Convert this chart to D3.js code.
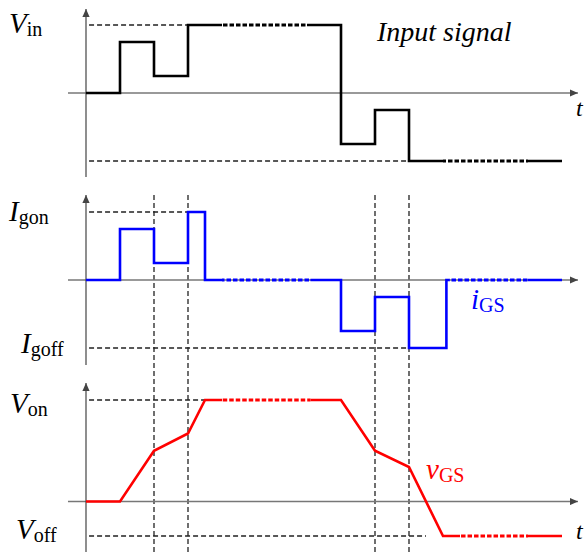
<!DOCTYPE html>
<html>
<head>
<meta charset="utf-8">
<script src="https://cdn.jsdelivr.net/npm/d3@7"></script>
<style>
  body { margin: 0; background: #fff; }
  text { font-family: "Liberation Serif", "DejaVu Serif", serif; }
</style>
</head>
<body>
<div id="chart"></div>
<script>
// time breakpoints (arbitrary units) and signal levels
var vinT   = [0, 1, 1, 2, 2, 3, 3, 7.5, 7.5, 8.5, 8.5, 9.5, 9.5, 14];
var vinV   = [0, 0, 0.75, 0.75, 0.25, 0.25, 1, 1, -0.75, -0.75, -0.25, -0.25, -1, -1];
var igsT   = [0, 1, 1, 2, 2, 3, 3, 3.5, 3.5, 7.5, 7.5, 8.5, 8.5, 9.5, 9.5, 10.6, 10.6, 14];
var igsV   = [0, 0, 0.75, 0.75, 0.25, 0.25, 1, 1, 0, 0, -0.75, -0.75, -0.25, -0.25, -1, -1, 0, 0];
var vgsT   = [0, 1, 2, 3, 3.5, 7.5, 8.5, 9.5, 10.5, 14];
var vgsV   = [0, 0, 0.5, 0.67, 1, 1, 0.5, 0.34, -0.34, -0.34];
// dotted ("time skipped") stretches of each trace
var vinGaps = [[4.0, 6.5], [10.5, 13.0]];
var igsGaps = [[4.0, 6.6], [10.7, 13.0]];
var vgsGaps = [[4.0, 6.6], [11.0, 13.0]];
// reference levels: [value, t end]
var vinRefs = [[1, 3.95], [-1, 9.9]];
var igsRefs = [[1, 3.0], [-1, 10.05]];
var vgsRefs = [[1, 3.5], [-0.34, 10.0]];
var markerT = [2, 3, 8.5, 9.5];

var width = 585, height = 554;
var svg = d3.select("#chart").append("svg")
    .attr("width", width).attr("height", height);

var defs = svg.append("defs");
defs.append("marker").attr("id", "arrow")
    .attr("viewBox", "0 0 10 10").attr("refX", 10).attr("refY", 5)
    .attr("markerWidth", 8).attr("markerHeight", 8)
    .attr("markerUnits", "userSpaceOnUse")
    .attr("orient", "auto")
  .append("path").attr("d", "M0,0.5L10,5L0,9.5Z").attr("fill", "#444");

var x = d3.scaleLinear().domain([0, 14]).range([86, 562]);

var panels = [
  {t: vinT, v: vinV, gaps: vinGaps, refs: vinRefs, color: "#000",
   y: d3.scaleLinear().domain([-1, 1]).range([161, 25]), top: 9, bottom: 177, clip: "c0"},
  {t: igsT, v: igsV, gaps: igsGaps, refs: igsRefs, color: "#0000ff",
   y: d3.scaleLinear().domain([-1, 1]).range([348, 212]), top: 195, bottom: 365, clip: "c1"},
  {t: vgsT, v: vgsV, gaps: vgsGaps, refs: vgsRefs, color: "#ff0000",
   y: d3.scaleLinear().domain([-0.34, 1]).range([536, 400]), top: 383, bottom: 552, clip: "c2"}
];

// vertical dashed marker lines
svg.selectAll(".marker")
    .data(markerT).enter().append("line")
    .attr("x1", d => x(d)).attr("x2", d => x(d))
    .attr("y1", 195).attr("y2", height)
    .attr("stroke", "#222").attr("stroke-width", 1.3)
    .attr("stroke-dasharray", "5,3");

panels.forEach(function (p, k) {
  var g = svg.append("g");
  var y0 = p.y(0);

  // horizontal time axis
  g.append("line")
      .attr("x1", x(-0.53)).attr("x2", x(14.47))
      .attr("y1", y0).attr("y2", y0)
      .attr("stroke", "#777").attr("stroke-width", 1.3)
      .attr("marker-end", "url(#arrow)");
  // vertical axis
  g.append("line")
      .attr("x1", x(0)).attr("x2", x(0))
      .attr("y1", p.bottom).attr("y2", p.top)
      .attr("stroke", "#444").attr("stroke-width", 1.2)
      .attr("marker-end", "url(#arrow)");

  // reference levels
  g.selectAll(".ref").data(p.refs).enter().append("line")
      .attr("x1", x(0.09)).attr("x2", d => x(d[1]))
      .attr("y1", d => p.y(d[0])).attr("y2", d => p.y(d[0]))
      .attr("stroke", "#222").attr("stroke-width", 1.4)
      .attr("stroke-dasharray", "5,3");

  var pts = p.t.map((t, i) => [x(t), p.y(p.v[i])]);
  var line = d3.line();

  // clip solid parts outside the gaps
  var cp = defs.append("clipPath").attr("id", p.clip);
  var edges = [-1].concat(...p.gaps).concat([15]);
  for (var i = 0; i < edges.length; i += 2) {
    cp.append("rect").attr("x", x(edges[i])).attr("width", x(edges[i + 1]) - x(edges[i]))
        .attr("y", 0).attr("height", height);
  }
  g.append("path").attr("d", line(pts))
      .attr("fill", "none").attr("stroke", p.color).attr("stroke-width", 2.6)
      .attr("clip-path", "url(#" + p.clip + ")");

  // dotted parts
  p.gaps.forEach(function (gp, j) {
    var id = p.clip + "g" + j;
    defs.append("clipPath").attr("id", id).append("rect")
        .attr("x", x(gp[0])).attr("width", x(gp[1]) - x(gp[0]))
        .attr("y", 0).attr("height", height);
    g.append("path").attr("d", line(pts))
        .attr("fill", "none").attr("stroke", p.color).attr("stroke-width", 3.2)
        .attr("stroke-dasharray", "4.5,2")
        .attr("clip-path", "url(#" + id + ")");
  });
});

// labels
function label(xp, yp, main, sub, color) {
  var t = svg.append("text").attr("x", xp).attr("y", yp).attr("fill", color || "#000");
  t.append("tspan").text(main).style("font-style", "italic").style("font-size", "29px");
  t.append("tspan").text(sub).attr("dy", 3).style("font-size", "20px");
}
label(9, 33, "V", "in");
label(9, 221, "I", "gon");
label(21, 353, "I", "goff");
label(10, 413, "V", "on");
label(16, 539, "V", "off");
label(471, 309, "i", "GS", "#0000ff");
label(426, 479, "v", "GS", "#ff0000");

svg.append("text").attr("x", 377).attr("y", 41)
    .style("font-style", "italic").style("font-size", "28px")
    .text("Input signal");
svg.append("text").attr("x", 576).attr("y", 116)
    .style("font-style", "italic").style("font-size", "24px").text("t");
svg.append("text").attr("x", 576).attr("y", 539)
    .style("font-style", "italic").style("font-size", "24px").text("t");
</script>
</body>
</html>
